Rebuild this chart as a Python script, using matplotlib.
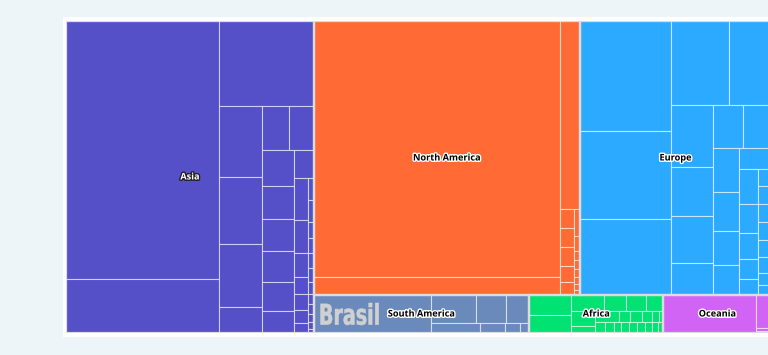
import matplotlib
matplotlib.use("Agg")
import matplotlib.pyplot as plt
import matplotlib.patheffects as pe
import matplotlib.transforms as mtransforms
from matplotlib.patches import Rectangle, PathPatch
from matplotlib.textpath import TextPath
from matplotlib.font_manager import FontProperties

# continents in drawing order
continents = ["Asia", "North America", "Europe", "South America", "Africa", "Oceania"]
colors = ["#5550c8", "#ff6a35", "#2caaff", "#6a8abc", "#00e272", "#d264f5"]
continent_strips = [1, 2, 1, 2]

# country values per continent, with how many go into each strip
asia_values = [39474, 8262, 7990, 2982, 2814, 2646, 1092, 1188, 1100,
               1152, 1056, 1024, 992, 928, 704, 560,
               588, 462, 336, 238, 224, 182, 140, 132,
               132, 96, 90, 90, 84, 72, 60, 60, 48, 42, 24]
asia_strips = [2, 1, 4, 2, 6, 1, 7, 1, 11]

namerica_values = [62976, 4392, 3720, 266, 266, 252, 224, 182, 162,
                   84, 54, 54, 48, 42, 36, 30]
namerica_strips = [2, 1, 5, 1, 7]

europe_values = [9992, 8067, 6875, 4897, 3486, 2604, 2016, 1974, 1344,
                 1290, 1204, 1118, 1014, 884, 780, 672,
                 646, 551, 494, 380, 304, 208,
                 234, 234, 234, 221, 208, 156, 130]
europe_strips = [3, 2, 4, 2, 4, 1, 5, 1, 7]

samerica_values = [4444, 1242, 837, 621, 510, 250, 160, 90]
samerica_strips = [1, 3, 1, 3]

africa_values = [830, 752, 544, 368, 320, 288, 350, 175,
                 240, 120, 120, 100, 70, 50, 110,
                 99, 88, 88, 88, 88, 77, 66, 66]
africa_strips = [2, 4, 2, 6, 1, 8]

oceania_values = [3520, 480, 45, 30]
oceania_strips = [1, 1, 2]

children = [asia_values, namerica_values, europe_values,
            samerica_values, africa_values, oceania_values]
child_strips = [asia_strips, namerica_strips, europe_strips,
                samerica_strips, africa_strips, oceania_strips]
big_child_label = {"South America": "Brasil"}


def layout(values, strips, x0, y0, x1, y1):
    # strips alternate: column on the left, then row on top, ...
    rects = []
    remaining = float(sum(values))
    i = 0
    for k, n in enumerate(strips):
        group = values[i:i + n]
        s = float(sum(group))
        if k % 2 == 0:
            w = (x1 - x0) * s / remaining
            y = y0
            for v in group:
                h = (y1 - y0) * v / s
                rects.append((x0, y, w, h))
                y += h
            x0 += w
        else:
            h = (y1 - y0) * s / remaining
            x = x0
            for v in group:
                w = (x1 - x0) * v / s
                rects.append((x, y0, w, h))
                x += w
            y0 += h
        remaining -= s
        i += n
    return rects


W, H = 705, 312
fig = plt.figure(figsize=(7.68, 3.55), dpi=100)
fig.patch.set_facecolor("#eef5f8")

# white card behind the chart
card = Rectangle((63 / 768, 1 - 337 / 355), 720 / 768, 320 / 355,
                 transform=fig.transFigure, facecolor="white",
                 edgecolor="none", zorder=-5)
fig.patches.append(card)

ax = fig.add_axes([66 / 768, 1 - 333 / 355, W / 768, H / 355])
ax.set_zorder(1)
ax.set_xlim(0, W)
ax.set_ylim(H, 0)
ax.axis("off")

totals = [sum(v) for v in children]
boxes = layout(totals, continent_strips, 0, 0, W, H)

for name, color, vals, strips, (bx, by, bw, bh) in zip(
        continents, colors, children, child_strips, boxes):
    cells = layout(vals, strips, bx, by, bx + bw, by + bh)
    for (cx, cy, cw, ch) in cells:
        ax.add_patch(Rectangle((cx, cy), cw, ch, facecolor=color,
                               edgecolor=(1, 1, 1, 0.55), linewidth=0.8))
    ax.add_patch(Rectangle((bx, by), bw, bh, facecolor="none",
                           edgecolor="#dcdcdc", linewidth=1.6, zorder=3))

    if name in big_child_label:
        cx, cy, cw, ch = cells[0]
        tp = TextPath((0, 0), big_child_label[name], size=1,
                      prop=FontProperties(family="DejaVu Sans", weight="bold"))
        ext = tp.get_extents()
        tw, th = 58, ch * 0.58
        tr = (mtransforms.Affine2D()
              .translate(-ext.x0, -ext.y0)
              .scale(tw / ext.width, -th / ext.height)
              .translate(cx + 7, cy + ch / 2 + th / 2))
        ax.add_patch(PathPatch(tr.transform_path(tp), facecolor="#d0d0d0",
                               edgecolor="#d0d0d0", linewidth=0.4, zorder=4))

    if name == "Asia":
        fc, sc = "white", "#222222"
    else:
        fc, sc = "black", "white"
    ax.text(bx + bw / 2, by + bh / 2, name, ha="center", va="center",
            fontsize=6.6, fontweight="bold", color=fc, zorder=5,
            family=["Open Sans", "DejaVu Sans"],
            path_effects=[pe.withStroke(linewidth=2, foreground=sc)])

fig.savefig("out.png", dpi=100)
